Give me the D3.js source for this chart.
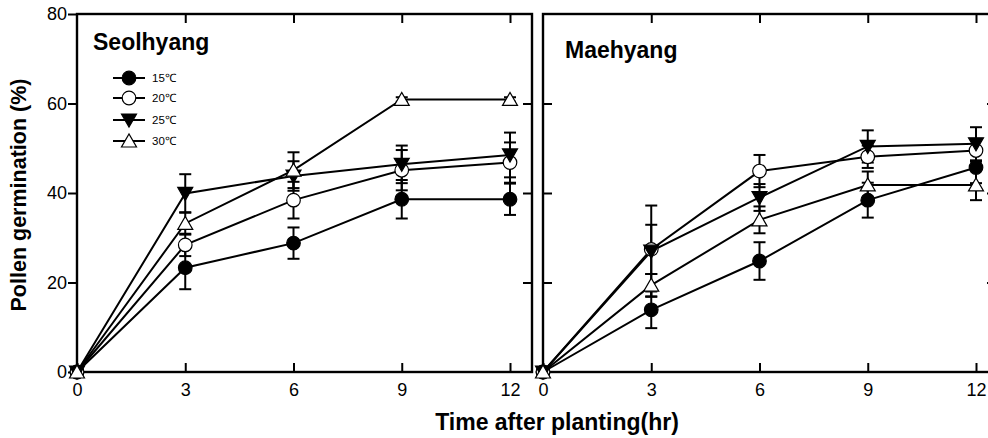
<!DOCTYPE html>
<html>
<head>
<meta charset="utf-8">
<script src="https://cdn.jsdelivr.net/npm/d3@7"></script>
<style>
  body { margin: 0; background: #fff; }
  svg { display: block; font-family: Arial, 'Liberation Sans', sans-serif; }
</style>
</head>
<body>
<svg id="chart" width="988" height="438"></svg>
<script>
const hours = [0, 3, 6, 9, 12]
const temps = ['15\u2103', '20\u2103', '25\u2103', '30\u2103']
const yTicks = [0, 20, 40, 60, 80]

// Seolhyang
const seol15 = [0, 23.3, 28.8, 38.6, 38.6]
const seol15Err = [0, 4.8, 3.5, 4.3, 3.5]
const seol20 = [0, 28.4, 38.4, 45.1, 46.8]
const seol20Err = [0, 2.5, 4.1, 4.5, 4.5]
const seol25 = [0, 39.9, 43.8, 46.4, 48.5]
const seol25Err = [0, 4.3, 3.3, 4.2, 5.0]
const seol30 = [0, 33.2, 45.1, 60.9, 60.9]
const seol30Err = [0, 2.5, 4.0, 0.5, 0.5]

// Maehyang
const mae15 = [0, 13.9, 24.8, 38.4, 45.7]
const mae15Err = [0, 4.1, 4.2, 3.9, 3.5]
const mae20 = [0, 27.4, 44.9, 48.1, 49.5]
const mae20Err = [0, 5.5, 3.6, 2.5, 2.5]
const mae25 = [0, 27.0, 39.0, 50.4, 51.0]
const mae25Err = [0, 10.2, 3.0, 3.6, 3.7]
const mae30 = [0, 19.4, 34.0, 41.8, 41.8]
const mae30Err = [0, 2.5, 3.0, 3.0, 3.4]

const panels = [
  { name: 'Seolhyang', left: 77, w: 455, series: [[seol15, seol15Err], [seol20, seol20Err], [seol25, seol25Err], [seol30, seol30Err]] },
  { name: 'Maehyang', left: 543, w: 453, series: [[mae15, mae15Err], [mae20, mae20Err], [mae25, mae25Err], [mae30, mae30Err]] }
]

const plotTop = 14
const plotBottom = 372
const tick = 9
const fontFam = "Arial, 'Liberation Sans', sans-serif"

const svg = d3.select('#chart')
const y = d3.scaleLinear().domain([0, 80]).range([plotBottom, plotTop])

function marker(g, k, cx, cy) {
  const fill = (k === 0 || k === 2) ? '#000' : '#fff'
  if (k < 2) {
    g.append('circle').attr('cx', cx).attr('cy', cy).attr('r', 6.8)
      .attr('fill', fill).attr('stroke', '#000').attr('stroke-width', 1.2)
  } else {
    const h = 7.5
    const pts = k === 2
      ? [[cx - h, cy - 6], [cx + h, cy - 6], [cx, cy + 7]]
      : [[cx - h, cy + 6], [cx + h, cy + 6], [cx, cy - 7]]
    g.append('path').attr('d', 'M' + pts.join('L') + 'Z')
      .attr('fill', fill).attr('stroke', '#000').attr('stroke-width', 1.2)
  }
}

panels.forEach((p, pi) => {
  // 12 hr sits ~108px * 4 from the left edge, same in both panels
  const x = d3.scaleLinear().domain([0, 12]).range([p.left, p.left + 433])
  const right = p.left + p.w
  const g = svg.append('g')

  g.append('g').attr('transform', 'translate(0,' + plotBottom + ')')
    .call(d3.axisBottom(x).tickValues(hours).tickSizeInner(-tick).tickSizeOuter(0).tickPadding(11))
  g.append('g').attr('transform', 'translate(0,' + plotTop + ')')
    .call(d3.axisTop(x).tickValues(hours.slice(1)).tickSizeInner(-tick).tickSizeOuter(0).tickFormat(''))
  g.append('g').attr('transform', 'translate(' + right + ',0)')
    .call(d3.axisRight(y).tickValues(yTicks.slice(1, 4)).tickSizeInner(-tick).tickSizeOuter(0).tickFormat(''))
  if (pi === 0) {
    g.append('g').attr('transform', 'translate(' + p.left + ',0)')
      .call(d3.axisLeft(y).tickValues(yTicks).tickSizeInner(tick).tickSizeOuter(0).tickPadding(1))
  } else {
    g.append('g').attr('transform', 'translate(' + p.left + ',0)')
      .call(d3.axisLeft(y).tickValues(yTicks.slice(1, 4)).tickSizeInner(-tick).tickSizeOuter(0).tickFormat(''))
  }
  g.selectAll('.domain').remove()
  g.selectAll('.tick line').attr('stroke', '#000').attr('stroke-width', 2)
  g.selectAll('.tick text').attr('font-size', 18).attr('fill', '#000').attr('font-family', fontFam)

  // frame
  g.append('rect').attr('x', p.left).attr('y', plotTop)
    .attr('width', p.w).attr('height', plotBottom - plotTop)
    .attr('fill', 'none').attr('stroke', '#000').attr('stroke-width', 2.4)

  // lines
  const line = d3.line().x((d, i) => x(hours[i])).y(d => y(d))
  p.series.forEach(([vals]) => {
    g.append('path').datum(vals).attr('d', line)
      .attr('fill', 'none').attr('stroke', '#000').attr('stroke-width', 2)
  })

  // error bars
  p.series.forEach(([vals, errs]) => {
    vals.forEach((v, i) => {
      if (!errs[i]) return
      const cx = x(hours[i])
      const y0 = y(v - errs[i])
      const y1 = y(v + errs[i])
      g.append('line').attr('x1', cx).attr('x2', cx).attr('y1', y0).attr('y2', y1)
        .attr('stroke', '#000').attr('stroke-width', 2)
      ;[y0, y1].forEach(yy => g.append('line').attr('x1', cx - 6).attr('x2', cx + 6)
        .attr('y1', yy).attr('y2', yy).attr('stroke', '#000').attr('stroke-width', 2))
    })
  })

  // markers
  p.series.forEach(([vals], k) => {
    vals.forEach((v, i) => marker(g, k, x(hours[i]), y(v)))
  })

  g.append('text').attr('x', p.left + (pi === 0 ? 16 : 22)).attr('y', pi === 0 ? 50 : 58)
    .attr('font-size', 23).attr('font-weight', 'bold').text(p.name)
})

// legend
const lg = svg.append('g')
temps.forEach((t, k) => {
  const ly = [78, 98, 120, 141][k]
  lg.append('line').attr('x1', 113).attr('x2', 145).attr('y1', ly).attr('y2', ly)
    .attr('stroke', '#000').attr('stroke-width', 2)
  marker(lg, k, 129, ly)
  lg.append('text').attr('x', 152).attr('y', ly + 4).attr('font-size', 11.5).text(t)
})

// axis titles
svg.append('text').attr('transform', 'translate(26,195) rotate(-90)')
  .attr('text-anchor', 'middle').attr('font-size', 21.5).attr('font-weight', 'bold')
  .text('Pollen germination (%)')
svg.append('text').attr('x', 557).attr('y', 430)
  .attr('text-anchor', 'middle').attr('font-size', 23).attr('font-weight', 'bold')
  .text('Time after planting(hr)')
</script>
</body>
</html>
